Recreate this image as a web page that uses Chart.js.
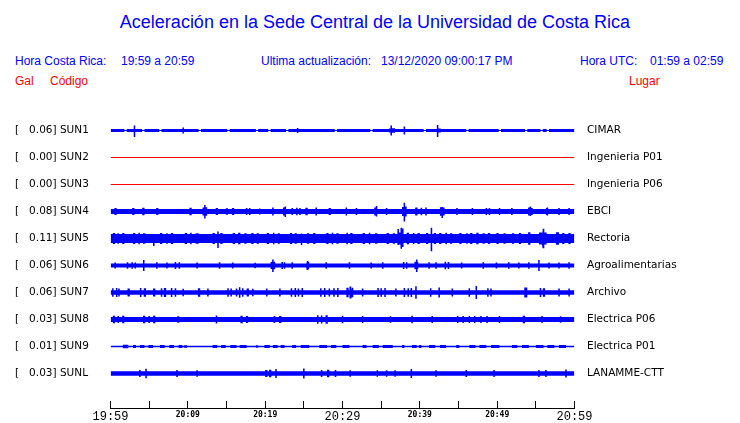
<!DOCTYPE html>
<html lang="es">
<head>
<meta charset="UTF-8">
<title>Aceleración en la Sede Central de la Universidad de Costa Rica</title>
<script src="https://cdn.jsdelivr.net/npm/chart.js@4"></script>
<style>
  html, body { margin: 0; padding: 0; background: #fff; }
  body { width: 740px; height: 423px; position: relative; overflow: hidden;
         font-family: 'Liberation Sans', Arial, sans-serif; }
  .t { position: absolute; white-space: pre; line-height: 1; }
  .blue { color: #0000ff; }
  .red { color: #ff0000; }
  #title { left: 0; width: 750px; text-align: center; top: 13px; font-size: 18px; }
  .hdr { top: 55px; font-size: 12px; }
  .sub { top: 75px; font-size: 12px; }
  #wrap { position: absolute; left: 0; top: 0; width: 740px; height: 423px; }
</style>
</head>
<body>
<div id="title" class="t blue">Aceleración en la Sede Central de la Universidad de Costa Rica</div>
<div class="t blue hdr" style="left:15px">Hora Costa Rica:</div>
<div class="t blue hdr" style="left:121px">19:59 a 20:59</div>
<div class="t blue hdr" style="left:261px">Ultima actualización:</div>
<div class="t blue hdr" style="left:381px">13/12/2020 09:00:17 PM</div>
<div class="t blue hdr" style="left:580px">Hora UTC:</div>
<div class="t blue hdr" style="left:650px">01:59 a 02:59</div>
<div class="t red sub" style="left:15px">Gal</div>
<div class="t red sub" style="left:50px">Código</div>
<div class="t red sub" style="left:629px">Lugar</div>

<div id="wrap"><canvas id="sismo" width="740" height="423"></canvas></div>

<script>
// stations, top to bottom
const codes  = ['SUN1', 'SUN2', 'SUN3', 'SUN4', 'SUN5', 'SUN6', 'SUN7', 'SUN8', 'SUN9', 'SUNL'];
const places = ['CIMAR', 'Ingenieria P01', 'Ingenieria P06', 'EBCI', 'Rectoria',
                'Agroalimentarias', 'Archivo', 'Electrica P06', 'Electrica P01', 'LANAMME-CTT'];
const peaks  = [0.06, 0.00, 0.00, 0.08, 0.11, 0.06, 0.06, 0.03, 0.01, 0.03];   // Gal

// time axis, minutes after 19:59
const timeLabels = ['19:59', '20:09', '20:19', '20:29', '20:39', '20:49', '20:59'];

// envelope of each trace, in mGal: background level, then bursts [from min, to min, up, down]
const base = [15, 0, 0, 24, 45, 20, 22, 26, 8, 22];

const sun1 = [[1.8,2.1,5],[3.0,3.2,50,65],[4.1,4.4,5],[6.3,6.6,5],[9.3,9.5,30],[11.4,11.7,5],[15.1,15.4,5],
  [18.8,19.1,5],[20.4,20.7,5],[22.7,23.0,5],[24.1,24.3,25],[29.0,29.3,5],[33.6,33.9,5],[36.0,36.2,20],
  [36.2,36.4,50],[36.4,36.8,22],[37.9,38.1,40],[40.5,40.8,5],[42.2,42.4,55,65],[42.4,42.7,20],[46.0,46.3,5],
  [50.2,50.5,5],[53.6,53.9,5],[55.6,55.9,5],[56.4,56.7,5]];
const sun2 = [];
const sun3 = [];
const sun4 = [[0.5,0.8,35],[2.8,3.1,35],[4.1,4.4,38],[5.9,6.2,35],[10.2,10.5,38],[11.9,12.1,40],[12.1,12.3,65,70],
  [12.3,12.5,42],[13.6,13.9,35],[14.9,15.2,33],[15.7,16.0,35],[17.5,17.7,35],[17.9,18.1,35],[19.2,19.4,30],
  [20.9,21.1,40],[22.3,22.5,40],[22.5,22.7,50,55],[23.4,23.6,35],[24.0,24.2,38],[24.4,24.6,35],[25.2,25.5,38],
  [26.5,26.7,40],[28.2,28.5,35],[30.4,30.6,40],[31.7,31.9,35],[34.1,34.3,40],[34.3,34.5,55,50],[35.6,35.8,35],
  [37.7,37.9,45],[37.9,38.1,87,100],[38.1,38.3,50],[39.4,39.7,40],[40.1,40.3,38],[40.7,40.9,40],[42.6,42.8,42],
  [42.8,43.0,45,65],[43.0,43.2,40],[44.7,44.9,35],[46.7,46.9,35],[48.5,48.7,35],[48.9,49.1,35],[50.2,50.4,35],
  [51.8,52.0,35],[54.0,54.2,40],[54.2,54.4,50,45],[54.4,54.6,35],[56.3,56.4,35],[56.4,56.6,40],[57.9,58.1,35],
  [59.2,59.4,35]];
const sun5 = [[0.3,0.6,55],[0.9,1.1,52],[1.5,1.8,55],[2.9,3.2,55],[3.6,3.8,58],[4.2,4.5,52],[5.5,5.7,45,75],
  [6.4,6.7,55],[7.2,7.4,52],[7.8,8.1,55],[9.6,9.9,55],[10.3,10.5,58],[11.0,11.4,52],[13.2,13.5,55],
  [13.8,14.0,70,95],[14.2,14.5,55],[15.8,16.1,55],[16.5,16.8,58],[17.3,17.6,52],[18.2,18.5,55],[18.9,19.2,52],
  [20.2,20.5,55],[21.0,21.2,58],[21.6,21.9,52],[23.2,23.5,55],[23.8,24.1,52],[24.6,24.8,50,65],[25.4,25.7,52],
  [26.2,26.5,55],[27.9,28.2,55],[28.6,28.8,58],[29.2,29.5,52],[30.5,30.7,58],[31.0,31.3,55],[32.6,32.9,55],
  [33.4,33.6,58],[34.2,34.5,52],[35.7,36.0,55],[36.5,36.8,52],[37.1,37.3,95,65],[37.3,37.5,60],
  [37.5,37.7,107,103],[37.7,37.9,100,85],[38.3,38.6,58],[39.1,39.3,55],[39.7,40.0,55],[40.8,41.1,55],
  [41.4,41.6,107,127],[41.8,42.1,55],[42.5,42.8,55],[43.3,43.5,58],[43.9,44.2,52],[45.1,45.4,55],[46.0,46.2,52],
  [46.5,46.8,55],[47.3,47.6,58],[48.1,48.4,52],[48.8,49.1,55],[49.9,50.2,55],[50.8,51.1,52],[51.9,52.2,52],
  [52.8,53.1,55],[54.0,54.3,62],[55.4,55.8,60],[55.9,56.1,97,97],[56.1,56.4,60],[57.6,58.0,62],[58.4,58.7,55],
  [59.2,59.5,55]];
const sun6 = [[0.5,0.7,30],[2.1,2.3,33],[2.7,2.9,33],[3.1,3.3,30],[4.2,4.4,55],[5.9,6.1,33],[7.2,7.4,30],
  [8.3,8.5,35],[8.8,9.0,33],[11.1,11.3,30],[14.0,14.2,33],[15.7,15.9,30],[18.6,18.8,28],[20.7,20.9,35],
  [20.9,21.1,60,65],[21.1,21.3,38],[22.1,22.3,35],[22.4,22.6,33],[23.4,23.6,33],[25.3,25.4,35],[25.4,25.6,45],
  [25.6,25.7,35],[27.8,28.0,33],[30.8,31.0,33],[33.6,33.8,30],[35.1,35.3,33],[37.8,38.0,35],[38.2,38.4,33],
  [39.3,39.5,38],[39.5,39.7,60,65],[39.7,39.8,35],[41.1,41.3,33],[42.0,42.2,33],[43.2,43.4,38],[43.6,43.8,35],
  [45.3,45.5,30],[48.1,48.3,33],[49.8,50.0,30],[51.4,51.6,33],[52.7,52.9,30],[54.0,54.2,33],[55.3,55.5,55],
  [56.6,56.8,30],[57.9,58.1,30],[59.2,59.4,33]];
const sun7 = [[0.2,0.4,42],[0.7,0.9,45],[1.0,1.2,40],[2.2,2.5,40],[3.8,4.0,45],[4.3,4.6,42],[5.5,5.8,40],
  [6.5,6.7,42],[6.9,7.2,45],[7.8,8.0,45],[8.3,8.5,42],[9.3,9.5,38],[11.3,11.6,42],[12.5,12.7,40],[15.1,15.3,42],
  [15.5,15.7,40],[16.2,16.4,40],[16.6,16.8,53],[17.0,17.2,42],[17.6,17.9,40],[18.3,18.5,38],[20.1,20.3,40],
  [21.8,22.0,40],[23.3,23.5,42],[23.8,24.0,45],[24.2,24.4,40],[24.7,24.9,45],[27.1,27.3,42],[27.6,27.8,45],
  [28.2,28.4,40],[28.8,29.0,42],[29.3,29.5,45],[30.5,30.8,48],[30.9,31.1,60],[31.2,31.4,48],[32.5,32.7,40],
  [34.5,34.7,45],[34.9,35.1,42],[35.4,35.6,45],[36.8,37.0,40],[37.9,38.1,45],[38.4,38.6,42],[38.8,39.0,45],
  [39.4,39.6,62],[41.3,41.5,42],[42.4,42.6,50],[44.1,44.3,40],[46.3,46.5,42],[47.2,47.4,65],[48.7,48.9,42],
  [49.1,49.3,40],[53.5,53.9,50],[55.5,55.7,45],[55.9,56.2,42],[57.9,58.1,40],[59.2,59.4,40]];
const sun8 = [[0.3,0.6,38],[0.9,1.1,36],[1.5,1.8,38],[4.2,4.5,38],[4.9,5.1,36],[5.5,5.8,38],[8.6,8.9,33],
  [13.6,13.8,40],[16.8,17.1,38],[17.5,17.8,36],[21.1,21.3,35],[21.8,22.1,35],[26.7,26.9,42],[27.2,27.4,40],
  [27.8,28.1,42],[29.9,30.1,38],[32.5,32.7,35],[36.1,36.3,33],[38.9,39.1,38],[41.5,41.7,35],[44.8,45.0,35],
  [45.5,45.7,35],[46.3,46.5,35],[47.0,47.2,35],[47.8,48.0,35],[48.6,48.8,35],[50.2,50.4,35],[53.3,53.6,38],
  [55.7,55.9,35],[58.1,58.3,33]];
const sun9 = [[1.6,2.3,18],[2.9,3.3,15],[3.8,4.4,15],[4.9,5.5,15],[6.4,7.0,15],[7.6,8.2,15],[8.8,9.3,15],
  [9.5,9.9,12],[13.2,13.8,15],[14.3,14.9,15],[15.5,16.3,15],[16.7,17.6,15],[18.8,19.1,12],[19.9,20.6,15],
  [21.0,21.6,15],[22.0,22.5,15],[23.5,24.0,15],[24.6,25.7,15],[27.0,28.0,15],[28.5,29.2,15],[30.0,30.9,15],
  [32.6,33.1,15],[33.9,34.7,15],[35.2,36.5,15],[37.7,38.0,15],[39.0,39.6,15],[39.9,40.2,15],[41.2,42.0,15],
  [42.6,43.4,15],[44.7,45.1,15],[46.4,47.2,15],[47.7,48.6,15],[49.2,50.3,15],[51.9,52.6,15],[53.2,54.1,15],
  [55.0,56.0,15],[56.5,57.4,15],[58.0,58.9,15]];
const sunl = [[3.7,3.9,35],[4.5,4.7,48],[8.5,8.7,35],[11.1,11.3,32],[20.0,20.3,35],[20.5,20.8,38],[21.3,21.5,45],
  [24.9,25.1,50],[27.2,27.4,35],[28.0,28.3,38],[29.0,29.2,35],[30.9,31.1,32],[34.4,34.6,32],[35.6,35.8,32],
  [36.7,36.9,32],[38.8,39.0,45],[42.0,42.2,32],[45.9,46.1,35],[49.5,49.7,35],[55.3,55.5,35],[56.2,56.4,35],
  [58.8,59.0,40]];
const bursts = [sun1, sun2, sun3, sun4, sun5, sun6, sun7, sun8, sun9, sunl];

const ROW = 270;                 // mGal between trace baselines
const Y_MAX = ROW / 2;
const Y_MIN = -(codes.length - 1) * ROW - 345;
const BLUE = '#0000ff', RED = '#ff0000';

// piecewise constant envelope -> [from, to, up, down]
function segments(b, list) {
  const out = [];
  let t = 0;
  list.forEach(s => {
    const from = Math.max(t, s[0]);
    if (from > t) out.push([t, from, b, b]);
    out.push([from, s[1], s[2], s.length > 3 ? s[3] : s[2]]);
    t = s[1];
  });
  if (t < 60) out.push([t, 60, b, b]);
  return out;
}

const datasets = [];
codes.forEach((code, i) => {
  const c = -i * ROW;
  const seg = segments(base[i], bursts[i]);
  const up = [], dn = [];
  seg.forEach(s => {
    up.push({ x: s[0], y: c + s[2] }, { x: s[1], y: c + s[2] });
    dn.push({ x: s[0], y: c - s[3] }, { x: s[1], y: c - s[3] });
  });
  if (peaks[i] === 0) {
    datasets.push({ label: code, data: up, yAxisID: 'yL', borderColor: RED, borderWidth: 1,
                    pointRadius: 0, fill: false });
  } else {
    datasets.push({ label: code + ' +', data: up, yAxisID: 'yL', borderColor: 'rgba(0,0,0,0)',
                    borderWidth: 0, pointRadius: 0, fill: false });
    datasets.push({ label: code + ' -', data: dn, yAxisID: 'yL', borderColor: 'rgba(0,0,0,0)',
                    borderWidth: 0, pointRadius: 0, fill: '-1', backgroundColor: BLUE });
  }
});

const rowTicks = scale => { scale.ticks = codes.map((c, i) => ({ value: -i * ROW })); };
const noPad = s => { s.paddingTop = 0; s.paddingBottom = 0; };
const labelFont = { family: 'DejaVu Sans', size: 10.5 };

new Chart(document.getElementById('sismo'), {
  type: 'line',
  data: { datasets: datasets },
  options: {
    responsive: false,
    animation: false,
    events: [],
    layout: { padding: { top: 117, left: 15, right: 0, bottom: 0 } },
    plugins: { legend: { display: false }, tooltip: { enabled: false } },
    elements: { line: { tension: 0 } },
    scales: {
      x: {
        type: 'linear', position: 'bottom', min: 0, max: 60,
        ticks: {
          stepSize: 5, autoSkip: false, maxRotation: 0, padding: 9, color: '#000',
          callback: v => (v % 10 === 0 ? timeLabels[v / 10] : ''),
          font: ctx => (ctx.tick && ctx.tick.value % 30 === 0)
            ? { family: 'Liberation Mono', size: 12 }
            : { family: 'DejaVu Sans Mono', size: 8, weight: 'bold' }
        },
        grid: { drawOnChartArea: false, drawTicks: true, tickLength: -7, color: '#000', lineWidth: 1 },
        border: { display: true, color: '#000', width: 1 },
        afterFit: s => { s.height = 15; s.paddingLeft = 0; s.paddingRight = 0; }
      },
      yL: {
        type: 'linear', position: 'left', min: Y_MIN, max: Y_MAX,
        afterBuildTicks: rowTicks,
        ticks: { autoSkip: false, crossAlign: 'far', padding: 0, color: '#000', font: labelFont,
                 callback: (v, i) => '[   ' + peaks[i].toFixed(2) + '] ' + codes[i] },
        grid: { display: false, drawTicks: false },
        border: { display: false },
        afterFit: s => { s.width = 95.5; noPad(s); }
      },
      yR: {
        type: 'linear', position: 'right', min: Y_MIN, max: Y_MAX,
        afterBuildTicks: rowTicks,
        ticks: { autoSkip: false, padding: 12.5, color: '#000', font: labelFont,
                 callback: (v, i) => places[i] },
        grid: { display: false, drawTicks: false },
        border: { display: false },
        afterFit: s => { s.width = 165.5; noPad(s); }
      }
    }
  }
});
</script>
</body>
</html>
